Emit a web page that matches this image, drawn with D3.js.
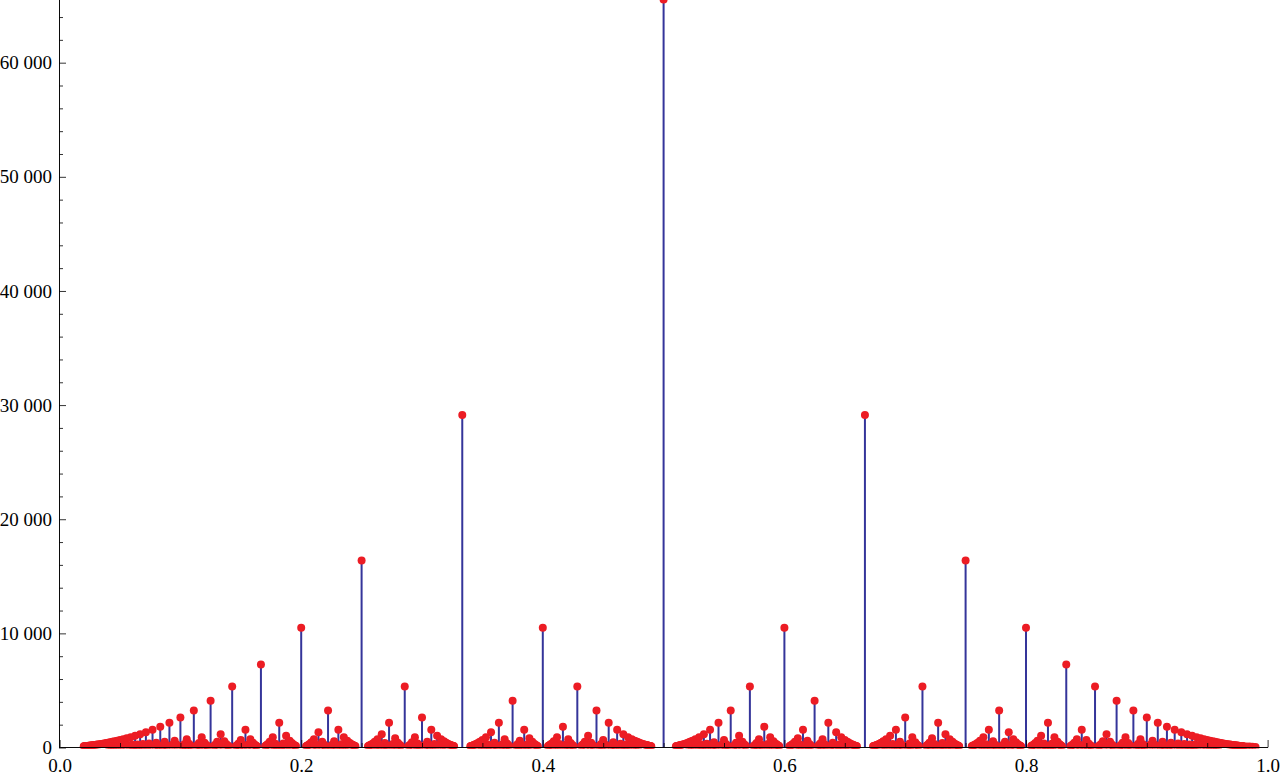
<!DOCTYPE html>
<html><head><meta charset="utf-8">
<script src="https://cdn.jsdelivr.net/npm/d3@7"></script>
<style>html,body{margin:0;padding:0;background:#fff;overflow:hidden}svg{display:block}
.lbl{font-family:"Liberation Serif","Times New Roman",serif;}</style>
</head><body>
<svg id="chart" width="1280" height="777"></svg>
<script>
// ---- data: points at p/q, heights read per denominator ----
const denominators = [2,3,4,5,6,7,8,9,10,11,12,13,14,15,16,17,18,19,20,21,22,23,24,25,26,27,28,29,30,31,32,33,34,35,36,37,38,39,40,41,42,43,44,45,46,47,48,49,50];
const heights = [65536,29127,16384,10486,7282,5350,4096,3236,2621,2166,1820,1551,1337,1165,1024,907,809,726,655,594,542,496,455,419,388,360,334,312,291,273,256,241,227,214,202,191,182,172,164,156,149,142,135,129,124,119,114,109,105];
const numerators = [
 [1],
 [1,2],
 [1,3],
 [1,2,3,4],
 [1,5],
 [1,2,3,4,5,6],
 [1,3,5,7],
 [1,2,4,5,7,8],
 [1,3,7,9],
 [1,2,3,4,5,6,7,8,9,10],
 [1,5,7,11],
 [1,2,3,4,5,6,7,8,9,10,11,12],
 [1,3,5,9,11,13],
 [1,2,4,7,8,11,13,14],
 [1,3,5,7,9,11,13,15],
 [1,2,3,4,5,6,7,8,9,10,11,12,13,14,15,16],
 [1,5,7,11,13,17],
 [1,2,3,4,5,6,7,8,9,10,11,12,13,14,15,16,17,18],
 [1,3,7,9,11,13,17,19],
 [1,2,4,5,8,10,11,13,16,17,19,20],
 [1,3,5,7,9,13,15,17,19,21],
 [1,2,3,4,5,6,7,8,9,10,11,12,13,14,15,16,17,18,19,20,21,22],
 [1,5,7,11,13,17,19,23],
 [1,2,3,4,6,7,8,9,11,12,13,14,16,17,18,19,21,22,23,24],
 [1,3,5,7,9,11,15,17,19,21,23,25],
 [1,2,4,5,7,8,10,11,13,14,16,17,19,20,22,23,25,26],
 [1,3,5,9,11,13,15,17,19,23,25,27],
 [1,2,3,4,5,6,7,8,9,10,11,12,13,14,15,16,17,18,19,20,21,22,23,24,25,26,27,28],
 [1,7,11,13,17,19,23,29],
 [1,2,3,4,5,6,7,8,9,10,11,12,13,14,15,16,17,18,19,20,21,22,23,24,25,26,27,28,29,30],
 [1,3,5,7,9,11,13,15,17,19,21,23,25,27,29,31],
 [1,2,4,5,7,8,10,13,14,16,17,19,20,23,25,26,28,29,31,32],
 [1,3,5,7,9,11,13,15,19,21,23,25,27,29,31,33],
 [1,2,3,4,6,8,9,11,12,13,16,17,18,19,22,23,24,26,27,29,31,32,33,34],
 [1,5,7,11,13,17,19,23,25,29,31,35],
 [1,2,3,4,5,6,7,8,9,10,11,12,13,14,15,16,17,18,19,20,21,22,23,24,25,26,27,28,29,30,31,32,33,34,35,36],
 [1,3,5,7,9,11,13,15,17,21,23,25,27,29,31,33,35,37],
 [1,2,4,5,7,8,10,11,14,16,17,19,20,22,23,25,28,29,31,32,34,35,37,38],
 [1,3,7,9,11,13,17,19,21,23,27,29,31,33,37,39],
 [1,2,3,4,5,6,7,8,9,10,11,12,13,14,15,16,17,18,19,20,21,22,23,24,25,26,27,28,29,30,31,32,33,34,35,36,37,38,39,40],
 [1,5,11,13,17,19,23,25,29,31,37,41],
 [1,2,3,4,5,6,7,8,9,10,11,12,13,14,15,16,17,18,19,20,21,22,23,24,25,26,27,28,29,30,31,32,33,34,35,36,37,38,39,40,41,42],
 [1,3,5,7,9,13,15,17,19,21,23,25,27,29,31,35,37,39,41,43],
 [1,2,4,7,8,11,13,14,16,17,19,22,23,26,28,29,31,32,34,37,38,41,43,44],
 [1,3,5,7,9,11,13,15,17,19,21,25,27,29,31,33,35,37,39,41,43,45],
 [1,2,3,4,5,6,7,8,9,10,11,12,13,14,15,16,17,18,19,20,21,22,23,24,25,26,27,28,29,30,31,32,33,34,35,36,37,38,39,40,41,42,43,44,45,46],
 [1,5,7,11,13,17,19,23,25,29,31,35,37,41,43,47],
 [1,2,3,4,5,6,8,9,10,11,12,13,15,16,17,18,19,20,22,23,24,25,26,27,29,30,31,32,33,34,36,37,38,39,40,41,43,44,45,46,47,48],
 [1,3,7,9,11,13,17,19,21,23,27,29,31,33,37,39,41,43,47,49]
];
// small points at the far right end of the carpet
const tailX = [0.9825, 0.985, 0.9875, 0.99];
const tailY = [95, 80, 65, 50];

const xTickValues = [0, 0.2, 0.4, 0.6, 0.8, 1.0];
const xTickLabels = ["0.0", "0.2", "0.4", "0.6", "0.8", "1.0"];
const yTickValues = [0, 10000, 20000, 30000, 40000, 50000, 60000];
const yTickLabels = ["0", "10 000", "20 000", "30 000", "40 000", "50 000", "60 000"];

// ---- build point table ----
const points = [];
denominators.forEach((q, i) => numerators[i].forEach(p => points.push({x: p / q, y: heights[i]})));
tailX.forEach((x, i) => points.push({x: x, y: tailY[i]}));

// ---- layout ----
const svg = d3.select("#chart");
const x = d3.scaleLinear().domain([0, 1]).range([59.6, 1267.6]);
const y = d3.scaleLinear().domain([0, 65536]).range([747.5, -0.5]);

const STEM = "#35359a", DOT = "#ec1c24";

svg.append("defs").append("clipPath").attr("id", "plotclip")
  .append("rect").attr("x", 40).attr("y", -10).attr("width", 1240).attr("height", 758.6);

const g = svg.append("g").attr("clip-path", "url(#plotclip)");
g.append("g").selectAll("line").data(points).join("line")
  .attr("x1", d => x(d.x)).attr("x2", d => x(d.x))
  .attr("y1", y(0)).attr("y2", d => y(d.y))
  .attr("stroke", STEM).attr("stroke-width", 2);
g.append("g").selectAll("circle").data(points).join("circle")
  .attr("cx", d => x(d.x)).attr("cy", d => y(d.y)).attr("r", 4)
  .attr("fill", DOT);

// ---- axes ----
const yMinor = d3.range(0, 66000, 2000).filter(v => v % 10000 !== 0);
const xMinor = d3.range(0, 1.0001, 0.05).filter((v, i) => i % 4 !== 0);

const yAxisMinor = svg.append("g").attr("transform", "translate(59,0)")
  .call(d3.axisLeft(y).tickValues(yMinor).tickSize(-4).tickSizeOuter(0).tickFormat(""));
const yAxis = svg.append("g").attr("transform", "translate(59,0)")
  .call(d3.axisLeft(y).tickValues(yTickValues).tickSize(-7).tickSizeOuter(0).tickPadding(7)
    .tickFormat((d, i) => yTickLabels[i]));
const xAxisMinor = svg.append("g").attr("transform", "translate(0,747)")
  .call(d3.axisBottom(x).tickValues(xMinor).tickSize(-4).tickSizeOuter(0).tickFormat(""));
const xAxis = svg.append("g").attr("transform", "translate(0,747)")
  .call(d3.axisBottom(x).tickValues(xTickValues).tickSize(-7).tickSizeOuter(0).tickPadding(12)
    .tickFormat((d, i) => xTickLabels[i]));

[yAxis, xAxis].forEach(a => {
  a.attr("font-family", null).attr("font-size", null);
  a.selectAll("text").attr("class", "lbl").style("font-size", "19px").attr("fill", "#000");
});
[yAxisMinor, yAxis, xAxisMinor, xAxis].forEach(a => {
  a.selectAll("path,line").attr("stroke", "#000").attr("stroke-opacity", 0.8);
});
</script>
</body></html>
